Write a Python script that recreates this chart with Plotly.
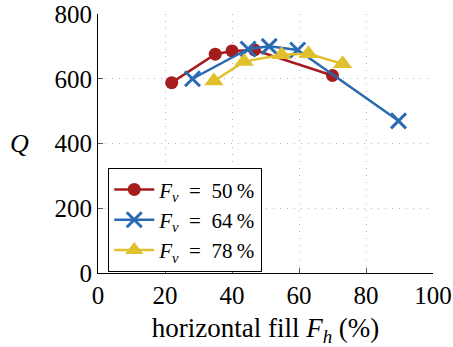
import plotly.graph_objects as go

fill_50 = [22, 35, 40, 46.7, 70]
q_50 = [588, 676, 686, 689, 610]
fill_64 = [28.2, 44.8, 51.1, 59.6, 89.7]
q_64 = [600, 692, 700, 689, 470]
fill_78 = [34.6, 43.6, 54.8, 62.8, 73]
q_78 = [593, 653, 674, 677, 646]
names = ["<i>F</i><sub><i>v</i></sub>\u2002=\u200250\u2009%",
         "<i>F</i><sub><i>v</i></sub>\u2002=\u200264\u2009%",
         "<i>F</i><sub><i>v</i></sub>\u2002=\u200278\u2009%"]
x_ticks = [0, 20, 40, 60, 80, 100]
y_ticks = [0, 200, 400, 600, 800]

red = "#a51d1d"
blue = "#2a6ab3"
yellow = "#e0c02c"
font = "Liberation Serif"

fig = go.Figure()
fig.add_trace(go.Scatter(x=fill_50, y=q_50, name=names[0], mode="lines+markers",
                         line=dict(color=red, width=2.5),
                         marker=dict(symbol="circle", size=13, color=red)))
fig.add_trace(go.Scatter(x=fill_64, y=q_64, name=names[1], mode="lines+markers",
                         line=dict(color=blue, width=2.5),
                         marker=dict(symbol="x-thin", size=15, color=blue,
                                     line=dict(color=blue, width=3))))
fig.add_trace(go.Scatter(x=fill_78, y=q_78, name=names[2], mode="lines+markers",
                         line=dict(color=yellow, width=2.5),
                         marker=dict(symbol="triangle-up", size=17, color=yellow)))

axis_common = dict(showgrid=True, gridcolor="#b5b5b5", griddash="1px,6px", gridwidth=1,
                   showline=True, linecolor="black", linewidth=1,
                   ticks="inside", ticklen=5, tickcolor="#555",
                   zeroline=False, automargin=False,
                   tickfont=dict(family=font, size=25, color="black"))

fig.update_layout(
    width=453, height=347,
    margin=dict(l=98, r=20, t=14, b=74),
    plot_bgcolor="white", paper_bgcolor="white",
    font=dict(family=font, size=21, color="black"),
    xaxis=dict(range=[0, 100], tickvals=x_ticks, **axis_common,
               title=dict(text="horizontal fill <i>F</i><sub><i>h</i></sub> (%)",
                          font=dict(family=font, size=27), standoff=10)),
    yaxis=dict(range=[0, 800], tickvals=y_ticks, **axis_common),
    legend=dict(x=0.03, y=0.405, xanchor="left", yanchor="top",
                bgcolor="white", bordercolor="black", borderwidth=1.2,
                font=dict(family=font, size=21), itemwidth=40,
                tracegroupgap=0),
    showlegend=True,
)
fig.add_annotation(text="<i>Q</i>", xref="paper", yref="paper", x=-0.233, y=0.5,
                   xanchor="center", yanchor="middle",
                   showarrow=False, font=dict(family=font, size=26))

fig.write_html("out.html", config={"displayModeBar": False},
               post_script="document.body.style.margin='0';document.body.style.overflow='hidden';")
